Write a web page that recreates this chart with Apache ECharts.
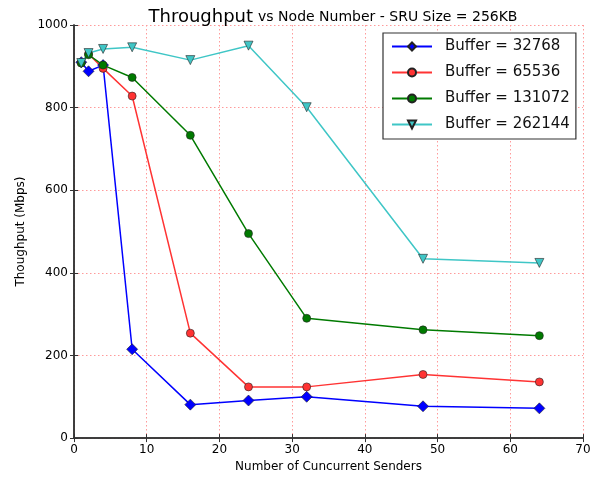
<!DOCTYPE html>
<html>
<head>
<meta charset="utf-8">
<script src="https://cdn.jsdelivr.net/npm/echarts@6/dist/echarts.min.js"></script>
<style>
  html, body { margin: 0; padding: 0; background: #fff; }
  #chart { width: 600px; height: 478px; }
</style>
</head>
<body>
<div id="chart"></div>
<script>
// senders on the x axis
const senders = [1, 2, 4, 8, 16, 24, 32, 48, 64];

// throughput (Mbps) per buffer size
const buf32768 = [910, 888, 903, 215, 81, 91, 100, 77, 72];
const buf65536 = [908, 930, 895, 828, 254, 124, 124, 154, 136];
const buf131072 = [908, 928, 903, 873, 733, 495, 290, 262, 248];
const buf262144 = [908, 932, 942, 946, 915, 950, 801, 434, 424];

const seriesNames = ["Buffer = 32768", "Buffer = 65536", "Buffer = 131072", "Buffer = 262144"];
const xTicks = [0, 10, 20, 30, 40, 50, 60, 70];
const yTicks = [0, 200, 400, 600, 800, 1000];

const pair = (ys) => senders.map((x, i) => [x, ys[i]]);

const chart = echarts.init(document.getElementById("chart"));

const gridLine = {
  show: true,
  lineStyle: { color: "#ff9a9a", type: [1.5, 2.5], width: 1 },
};
const frameLine = { show: true, lineStyle: { color: "#333", width: 1.5 } };
const frameTick = { show: true, inside: true, length: 4, lineStyle: { color: "#333" } };

function makeSeries(name, data, color, symbol, size) {
  return {
    name: name,
    type: "line",
    data: pair(data),
    symbol: symbol,
    symbolSize: size,
    showAllSymbol: true,
    lineStyle: { color: color, width: 1.5 },
    itemStyle: { color: color, borderColor: "#222", borderWidth: 0.6, opacity: 1 },
    emphasis: { disabled: true },
  };
}

const option = {
  animation: false,
  title: {
    text: "{big|Throughput} {small|vs Node Number - SRU Size = 256KB}",
    left: 328,
    top: 3,
    textAlign: "center",
    textStyle: {
      rich: {
        big: { fontFamily: "DejaVu Sans", fontSize: 18, fontWeight: "normal", color: "#000" },
        small: { fontFamily: "DejaVu Sans", fontSize: 14, fontWeight: "normal", color: "#000" },
      },
    },
  },
  legend: {
    orient: "vertical",
    left: 383,
    top: 33,
    width: 190,
    padding: [6, 6, 7, 8],
    itemGap: 11,
    itemWidth: 40,
    itemHeight: 10,
    borderColor: "#333",
    borderWidth: 1.2,
    backgroundColor: "#fff",
    textStyle: { fontFamily: "DejaVu Sans", fontSize: 15, color: "#111", padding: [0, 0, 0, 8] },
    data: seriesNames,
  },
  grid: { left: 74, right: 17, top: 25, bottom: 38 },
  xAxis: [
    {
      type: "value",
      min: 0,
      max: 70,
      interval: 10,
      name: "Number of Cuncurrent Senders",
      nameLocation: "middle",
      nameGap: 21,
      nameTextStyle: { fontFamily: "DejaVu Sans", fontSize: 12, color: "#000" },
      axisLine: frameLine,
      axisTick: frameTick,
      axisLabel: {
        fontFamily: "DejaVu Sans",
        fontSize: 12,
        color: "#000",
        margin: 6,
        formatter: (v) => (xTicks.includes(v) ? String(v) : ""),
      },
      splitLine: gridLine,
    },
    {
      type: "value",
      position: "top",
      min: 0,
      max: 70,
      interval: 10,
      axisLine: frameLine,
      axisTick: frameTick,
      axisLabel: { show: false },
      splitLine: { show: false },
    },
  ],
  yAxis: [
    {
      type: "value",
      min: 0,
      max: 1000,
      interval: 200,
      name: "Thoughput (Mbps)",
      nameLocation: "middle",
      nameGap: 44,
      nameTextStyle: { fontFamily: "DejaVu Sans", fontSize: 12, color: "#000" },
      axisLine: frameLine,
      axisTick: frameTick,
      axisLabel: {
        fontFamily: "DejaVu Sans",
        fontSize: 12,
        color: "#000",
        margin: 6,
        formatter: (v) => (yTicks.includes(v) ? String(v) : ""),
      },
      splitLine: gridLine,
    },
    {
      type: "value",
      position: "right",
      min: 0,
      max: 1000,
      interval: 200,
      axisLine: frameLine,
      axisTick: frameTick,
      axisLabel: { show: false },
      splitLine: { show: false },
    },
  ],
  series: [
    makeSeries(seriesNames[0], buf32768, "#0000ff", "diamond", 11),
    makeSeries(seriesNames[1], buf65536, "#ff3333", "circle", 8),
    makeSeries(seriesNames[2], buf131072, "#007a00", "circle", 8),
    makeSeries(seriesNames[3], buf262144, "#3fc6c6", "triangle", 9),
  ],
};

// downward triangles like the reference
option.series[3].symbolRotate = 180;

chart.setOption(option);
</script>
</body>
</html>
